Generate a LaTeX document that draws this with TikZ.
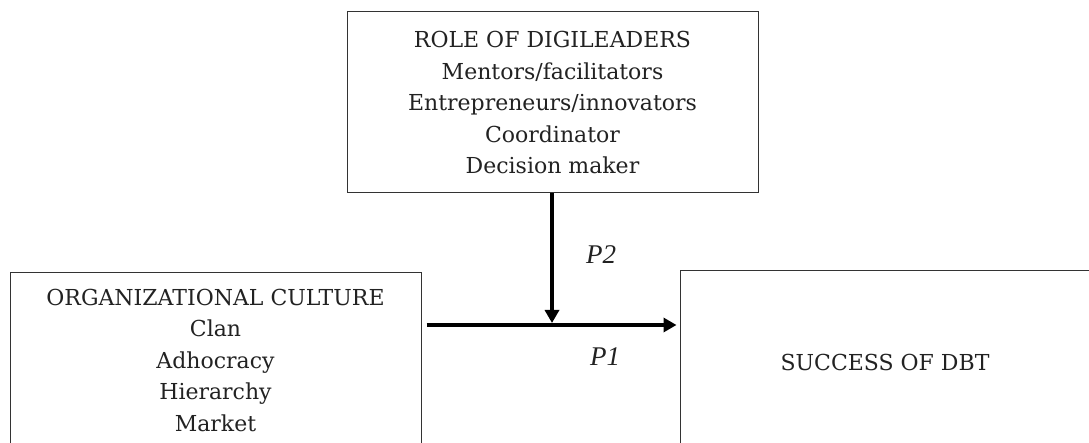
\documentclass[tikz,border=0pt]{standalone}
\usepackage{fontspec}
\setmainfont{DejaVu Serif}
\newfontfamily\labelfont{Liberation Serif}
\usetikzlibrary{arrows.meta}
\definecolor{ink}{HTML}{222222}
\definecolor{frame}{HTML}{333333}
\tikzset{
  conceptbox/.style={draw=frame, line width=1pt, rectangle, align=center,
    text=ink, inner sep=0pt,
    font=\fontsize{22}{31.5}\selectfont},
  arr/.style={line width=4pt, black,
    -{Triangle[length=13pt, width=14pt]}},
  plabel/.style={font=\labelfont\fontsize{27}{30}\selectfont\itshape, text=ink}
}
\begin{document}
\begin{tikzpicture}[x=1pt, y=-1pt]
  \clip (0,0) rectangle (1089,443);
  \fill[white] (0,0) rectangle (1089,443);

  % the three constructs
  \node[conceptbox, minimum width=411pt, minimum height=181pt] (lead) at (552.5,102.5)
    {ROLE OF DIGILEADERS\\ Mentors/facilitators\\ Entrepreneurs/innovators\\ Coordinator\\ Decision maker};
  \node[conceptbox, minimum width=411pt, minimum height=174pt] (oc) at (215.5,360)
    {ORGANIZATIONAL CULTURE\\ Clan\\ Adhocracy\\ Hierarchy\\ Market};
  \node[conceptbox, minimum width=410pt, minimum height=182pt] (dbt) at (885,362)
    {SUCCESS OF DBT};

  % direct path and moderating path
  \coordinate (j) at (552,325);
  \draw[arr, shorten <=5pt, shorten >=3pt] (oc.east |- j) -- (dbt.west |- j);
  \draw[arr, shorten >=2pt] (lead.south -| j) -- (j);

  \node[plabel] (p2) at (601,255) {P2};
  \node[plabel] (p1) at (605,357) {P1};
\end{tikzpicture}
\end{document}
